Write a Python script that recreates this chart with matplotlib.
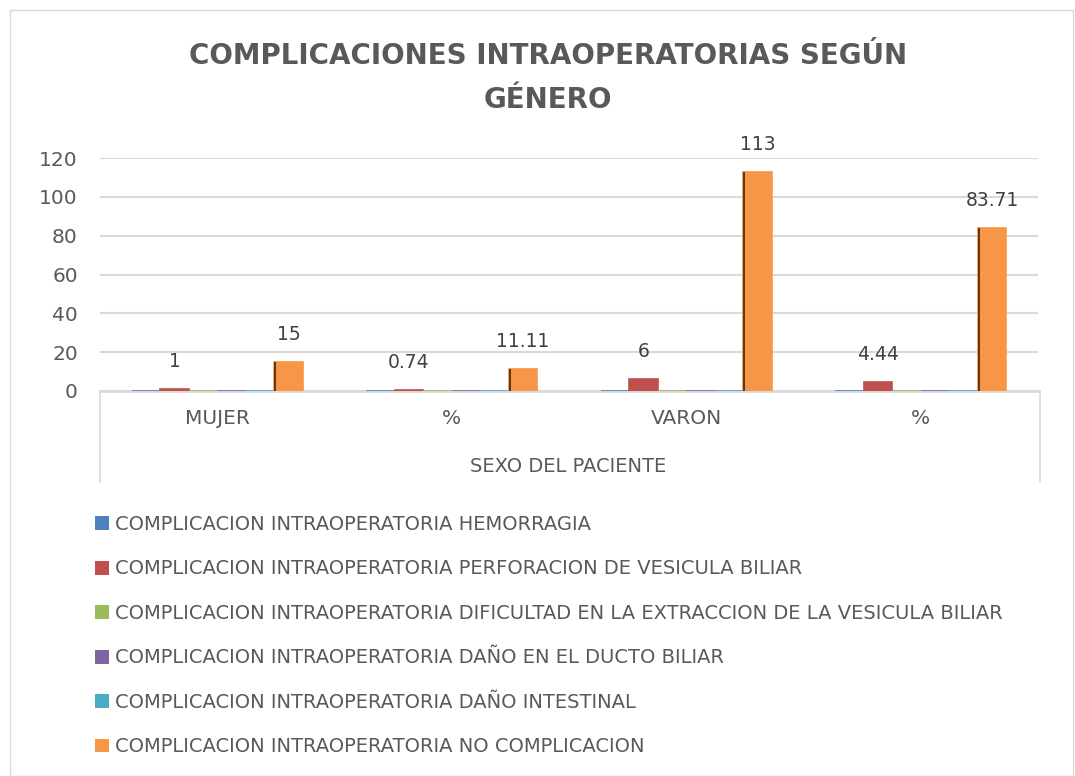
import numpy as np
import matplotlib
matplotlib.use('Agg')
import matplotlib.pyplot as plt
from matplotlib.lines import Line2D
from matplotlib.patches import Rectangle

# ---------------------------------------------------------------------------

categories = ['MUJER', '%', 'VARON', '%']
series_names = [
    'COMPLICACION INTRAOPERATORIA HEMORRAGIA',
    'COMPLICACION INTRAOPERATORIA PERFORACION DE VESICULA BILIAR',
    'COMPLICACION INTRAOPERATORIA DIFICULTAD EN LA EXTRACCION DE LA VESICULA BILIAR',
    'COMPLICACION INTRAOPERATORIA DAÑO EN EL DUCTO BILIAR',
    'COMPLICACION INTRAOPERATORIA DAÑO INTESTINAL',
    'COMPLICACION INTRAOPERATORIA NO COMPLICACION',
]
hemorragia = [0, 0, 0, 0]
perforacion = [1, 0.74, 6, 4.44]
dificultad = [0, 0, 0, 0]
ducto = [0, 0, 0, 0]
intestinal = [0, 0, 0, 0]
no_complicacion = [15, 11.11, 113, 83.71]
label_text = {1: ['1', '0.74', '6', '4.44'],
              5: ['15', '11.11', '113', '83.71']}

colors = ['#4F81BD', '#C0504D', '#9BBB59', '#8064A2', '#4BACC6', '#F79646']
text_color = '#595959'

# ---------------------------------------------------------------------------

dpi = 100.0
W, H = 1075, 776
fig = plt.figure(figsize=(W / dpi, H / dpi), dpi=dpi)
ax = fig.add_axes([100 / W, 1 - 391 / H, 938 / W, 233 / H])

all_series = [hemorragia, perforacion, dificultad, ducto, intestinal, no_complicacion]
x = np.arange(len(categories))
n = len(all_series)
group = 0.73
w = group / n
for i, (vals, name, c) in enumerate(zip(all_series, series_names, colors)):
    pos = x - group / 2 + w * (i + 0.5)
    bars = ax.bar(pos, vals, width=w, color=c, edgecolor=c, linewidth=1.2,
                  label=name, zorder=3)
    if i in label_text:
        for b, t in zip(bars, label_text[i]):
            ax.annotate(t, (b.get_x() + b.get_width() / 2, b.get_height()),
                        xytext=(0, 13), textcoords='offset points',
                        ha='center', va='bottom', fontsize=13.5, color='#404040')
    if i == 5:
        # dark side face of the 3D orange bars
        for b in bars:
            ax.bar(b.get_x() + 0.004, b.get_height(), width=0.008,
                   color='#5a3a1a', zorder=4)

ax.set_xlim(-0.5, len(categories) - 0.5)
ax.set_ylim(0, 120)
ax.set_yticks(range(0, 121, 20))
ax.yaxis.grid(True, color='#d9d9d9', linewidth=1.5, zorder=0)
ax.set_axisbelow(True)
for s in ax.spines.values():
    s.set_visible(False)
ax.spines['bottom'].set_visible(True)
ax.spines['bottom'].set_color('#d9d9d9')
ax.spines['bottom'].set_linewidth(2)
ax.tick_params(axis='y', length=0, pad=16, labelsize=14.5, labelcolor=text_color)
ax.tick_params(axis='x', length=0, pad=13, labelsize=14.5, labelcolor=text_color)
ax.set_xticks(x)
ax.set_xticklabels(categories)

# multi-level category box
fig.add_artist(Line2D([100 / W, 100 / W], [1 - 391 / H, 1 - 482 / H],
                      color='#d9d9d9', linewidth=1.2))
fig.add_artist(Line2D([1040 / W, 1040 / W], [1 - 391 / H, 1 - 482 / H],
                      color='#d9d9d9', linewidth=1.2))
fig.text(568 / W, 1 - 467 / H, 'SEXO DEL PACIENTE', ha='center', va='center',
         fontsize=14, color=text_color)

fig.text(548 / W, 1 - 78 / H, 'COMPLICACIONES INTRAOPERATORIAS SEGÚN\nGÉNERO',
         ha='center', va='center', fontsize=20, fontweight='bold', color=text_color,
         linespacing=1.75)

handles, labels = ax.get_legend_handles_labels()
leg = fig.legend(handles, labels, loc='upper left',
                 bbox_to_anchor=(95 / W, 1 - 515 / H),
                 frameon=False, fontsize=14.0, labelcolor=text_color,
                 handlelength=0.72, handleheight=0.72, handletextpad=0.3,
                 labelspacing=1.31, borderpad=0, borderaxespad=0)
for h in leg.legend_handles:
    h.set_linewidth(0)

fig.add_artist(Rectangle((10 / W, 0), 1063 / W, 1 - 10 / H,
                         fill=False, edgecolor='#d9d9d9', linewidth=1,
                         transform=fig.transFigure))

fig.savefig('out.png', dpi=dpi)
